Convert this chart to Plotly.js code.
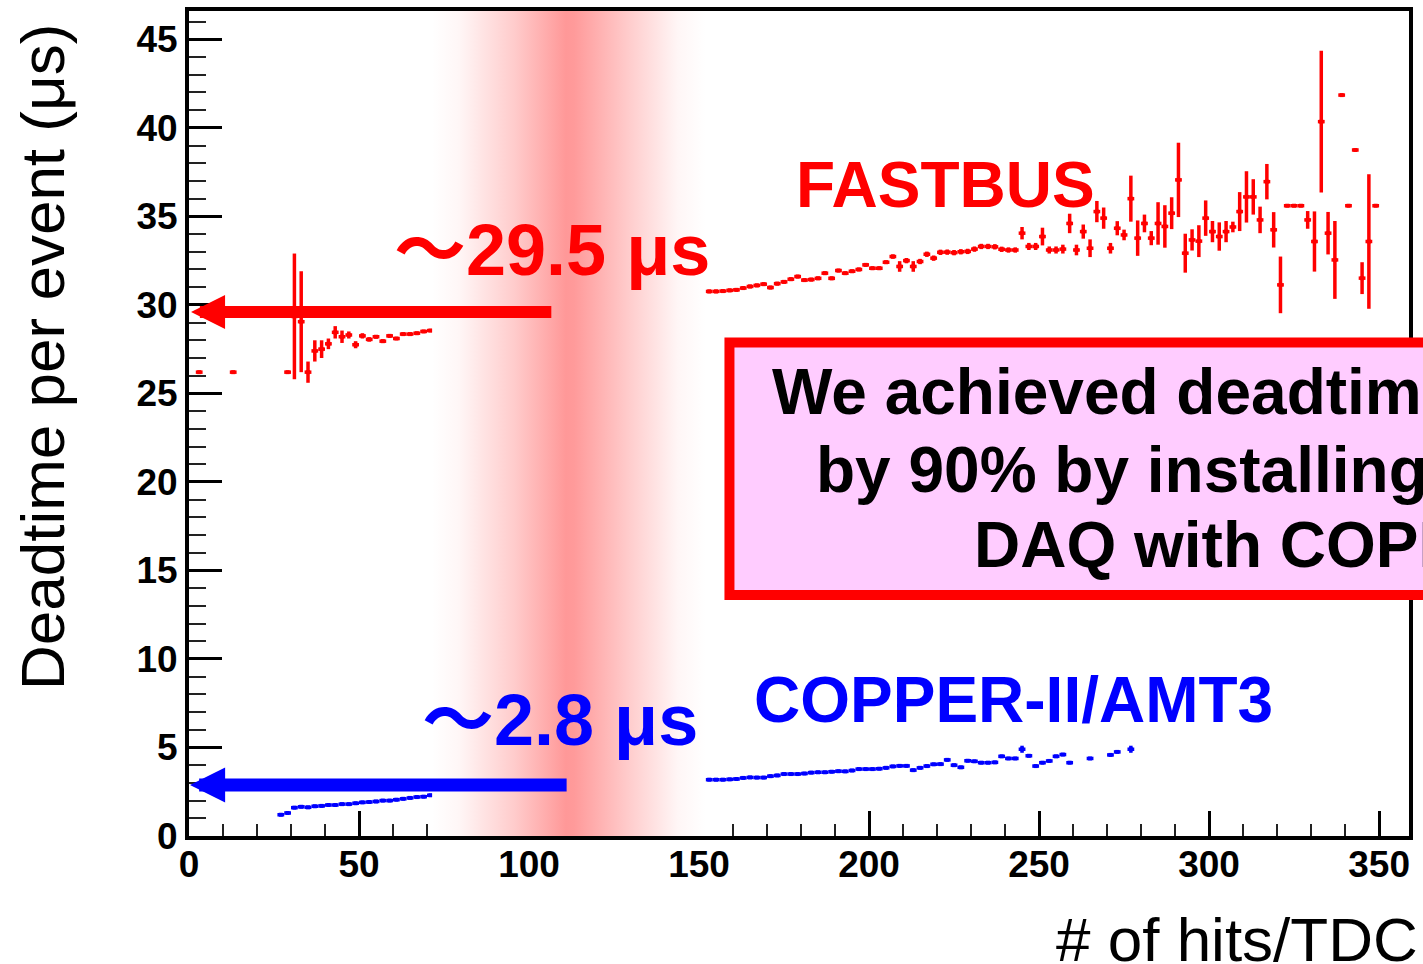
<!DOCTYPE html>
<html>
<head>
<meta charset="utf-8">
<script src="https://cdn.plot.ly/plotly-3.0.1.min.js"></script>
<style>html,body{margin:0;padding:0;background:#fff;overflow:hidden}</style>
</head>
<body>
<div id="chart" style="width:1423px;height:964px"></div>
<script>
// ---------------- data ----------------
// FASTBUS (red), bins of width 2 centered at odd x
const redLeftX = [3, 13, 29, 31, 33, 35, 37, 39, 41, 43, 45, 47, 49, 51, 53, 55, 57, 59, 61, 63, 65, 67, 69, 71];
const redLeftY = [26.2, 26.2, 26.2, 29.35, 29.05, 26.2, 27.4, 27.5, 27.8, 28.45, 28.2, 28.3, 27.75, 28.25, 28.05, 28.2, 27.95, 28.25, 28.1, 28.35, 28.35, 28.4, 28.5, 28.55];
const redLeftErr = [0, 0, 0, 3.55, 2.85, 0.6, 0.6, 0.5, 0.3, 0.35, 0.35, 0.2, 0.2, 0.15, 0.12, 0.1, 0.1, 0.1, 0.08, 0.08, 0.08, 0.06, 0.06, 0.06];

const redRightX = [153,155,157,159,161,163,165,167,169,171,173,175,177,179,181,183,185,187,189,191,193,195,197,199,201,203,205,207,209,211,213,215,217,219,221,223,225,227,229,231,233,235,237,239,241,243,245,247,249,251,253,255,257,259,261,263,265,267,269,271,273,275,277,279,281,283,285,287,289,291,293,295,297,299,301,303,305,307,309,311,313,315,317,319,321,323,325,327,329,331,333,335,337,339,341,343,345,347,349];
const redRightY = [30.76,30.76,30.78,30.82,30.85,30.95,31.04,31.1,31.17,30.98,31.2,31.3,31.45,31.6,31.4,31.43,31.5,31.79,31.5,31.94,31.79,31.9,32.0,32.26,32.07,32.07,32.41,32.73,32.17,32.5,32.17,32.45,32.86,32.64,32.97,32.98,32.95,33.0,33.02,33.15,33.3,33.3,33.28,33.14,33.1,33.1,34.05,33.3,33.3,33.86,33.1,33.1,33.15,34.6,33.1,34.14,33.2,35.27,34.9,33.2,34.33,33.95,36.0,33.77,34.6,33.77,34.6,34.43,35.18,37.06,32.92,33.67,33.6,34.9,34.14,33.86,34.14,34.4,35.27,36.1,36.1,34.8,36.96,34.24,31.13,35.6,35.6,35.6,34.8,33.58,40.35,34.05,32.54,41.85,35.6,38.75,31.51,33.58,35.6];
const redRightErr = [0.1,0.1,0.1,0.1,0.1,0.1,0.1,0.1,0.1,0.1,0.1,0.1,0.1,0.1,0.1,0.1,0.1,0.1,0.1,0.1,0.1,0.1,0.1,0.1,0.1,0.1,0.1,0.12,0.3,0.15,0.3,0.15,0.15,0.15,0.15,0.15,0.15,0.15,0.15,0.15,0.15,0.15,0.15,0.15,0.15,0.15,0.35,0.2,0.2,0.5,0.2,0.2,0.25,0.55,0.3,0.4,0.5,0.6,0.6,0.3,0.4,0.3,1.3,1.0,0.5,0.4,1.2,1.2,0.9,2.1,1.1,0.6,0.9,1.0,0.6,0.8,0.6,0.3,1.1,1.45,1.0,0.75,1.0,1.0,1.6,0,0,0,0.5,1.7,4.0,1.2,2.2,0,0,0,0.9,3.8,0];

// COPPER-II/AMT3 (blue)
const blueLeftX = [27, 29, 31, 33, 35, 37, 39, 41, 43, 45, 47, 49, 51, 53, 55, 57, 59, 61, 63, 65, 67, 69, 71];
const blueLeftY = [1.2, 1.3, 1.6, 1.65, 1.62, 1.68, 1.7, 1.75, 1.75, 1.8, 1.8, 1.85, 1.9, 1.92, 1.95, 2.0, 2.0, 2.05, 2.1, 2.15, 2.2, 2.22, 2.3];

const blueRightX = [153,155,157,159,161,163,165,167,169,171,173,175,177,179,181,183,185,187,189,191,193,195,197,199,201,203,205,207,209,211,213,215,217,219,221,223,225,227,229,231,233,235,237,239,241,243,245,247,249,251,253,255,257,259,265,271,273,277];
const blueRightY = [3.18,3.18,3.18,3.2,3.22,3.28,3.31,3.3,3.3,3.38,3.42,3.5,3.5,3.5,3.53,3.58,3.6,3.6,3.63,3.66,3.65,3.7,3.78,3.78,3.78,3.8,3.85,3.93,3.96,3.96,3.72,3.85,3.95,4.05,4.06,4.3,4.0,3.88,4.25,4.22,4.14,4.14,4.16,4.5,4.38,4.38,4.9,4.53,3.95,4.14,4.24,4.5,4.6,4.14,4.38,4.58,4.75,4.9];

const xTickVals = [0, 50, 100, 150, 200, 250, 300, 350];
const yTickVals = [0, 5, 10, 15, 20, 25, 30, 35, 40, 45];

const labelFastbus = "FASTBUS";
const labelCopper = "COPPER-II/AMT3";
const labelRedValue = "〜29.5 μs";
const labelBlueValue = "〜2.8 μs";
const boxLines = ["We achieved deadtime reduction", "by 90% by installing the new", "DAQ with COPPER"];
const xTitle = "# of hits/TDC";
const yTitle = "Deadtime per event (μs)";

const bandRange = [71.5, 151.8];

// ---------------- styling ----------------
const RED = '#ff0000', BLUE = '#0000ff';
const FONT = 'Liberation Sans, Arial, Noto Sans CJK JP, sans-serif';

function profileTrace(x, y, err, color, thick) {
  return {
    type: 'scatter', mode: 'markers', x: x, y: y,
    marker: {color: color, size: 4, symbol: 'square'},
    error_y: {type: 'data', array: err, visible: true, color: color, thickness: thick, width: 0},
    error_x: {type: 'constant', value: 1, visible: true, color: color, thickness: thick, width: 0},
    hoverinfo: 'x+y', showlegend: false
  };
}

const blueLeftErr = blueLeftY.map(() => 0.04);
const blueRightErr = blueRightX.map((v) => (v === 245 || v === 277) ? 0.2 : 0.05);

const traces = [
  profileTrace(redLeftX, redLeftY, redLeftErr, RED, 3.5),
  profileTrace(redRightX, redRightY, redRightErr, RED, 3.5),
  profileTrace(blueLeftX, blueLeftY, blueLeftErr, BLUE, 3.5),
  profileTrace(blueRightX, blueRightY, blueRightErr, BLUE, 3.5),
  {
    type: 'scatter', mode: 'lines',
    x: [bandRange[0], bandRange[1], bandRange[1], bandRange[0], bandRange[0]],
    y: [0, 0, 46.6, 46.6, 0],
    fill: 'toself',
    fillcolor: 'rgba(255,153,153,0.6)',
    fillgradient: {
      type: 'horizontal',
      colorscale: [[0, '#ffffff'], [0.1, '#fff6f6'], [0.3, '#ffcccc'], [0.49, '#ff9898'], [0.52, '#ff9a9a'], [0.72, '#ffcccc'], [0.9, '#fff6f6'], [1, '#ffffff']]
    },
    line: {width: 0, color: 'rgba(0,0,0,0)'},
    hoverinfo: 'skip', showlegend: false
  }
];

const tickFont = {family: FONT, size: 37, color: '#000', weight: 700};

const layout = {
  width: 1423, height: 964,
  margin: {l: 189, r: 14, t: 11, b: 128, pad: 0},
  paper_bgcolor: '#fff', plot_bgcolor: '#fff',
  showlegend: false,
  xaxis: {
    range: [0, 358.8], showgrid: false, zeroline: false,
    showline: true, linewidth: 4, linecolor: '#000', mirror: true,
    ticks: 'inside', tickmode: 'array', tickvals: xTickVals, ticktext: xTickVals.map(String),
    ticklen: 25, tickwidth: 3, tickcolor: '#000',
    minor: {ticks: 'inside', dtick: 10, tick0: 0, ticklen: 12, tickwidth: 2, tickcolor: '#222', showgrid: false},
    tickfont: tickFont, ticklabelstandoff: -7, layer: 'below traces', fixedrange: true
  },
  yaxis: {
    range: [0, 46.6], showgrid: false, zeroline: false,
    showline: true, linewidth: 4, linecolor: '#000', mirror: true,
    ticks: 'inside', tickmode: 'array', tickvals: yTickVals, ticktext: yTickVals.map(String),
    ticklen: 33, tickwidth: 3, tickcolor: '#000',
    minor: {ticks: 'inside', dtick: 1, tick0: 0, ticklen: 17, tickwidth: 2, tickcolor: '#222', showgrid: false},
    tickfont: tickFont, layer: 'below traces', fixedrange: true
  },
  shapes: [
    {type: 'rect', xref: 'paper', yref: 'paper', x0: 0.443, x1: 1.2, y0: 0.2921, y1: 0.5982,
     line: {color: RED, width: 10}, fillcolor: '#ffccff', layer: 'above'}
  ],
  annotations: [
    // arrows
    {x: 0.6, y: 29.6, xref: 'x', yref: 'y', ax: 107, ay: 29.6, axref: 'x', ayref: 'y',
     text: '', showarrow: true, arrowhead: 2, arrowsize: 0.567, arrowwidth: 12, arrowcolor: RED, standoff: 0},
    {x: 0.3, y: 2.88, xref: 'x', yref: 'y', ax: 111.5, ay: 2.88, axref: 'x', ayref: 'y',
     text: '', showarrow: true, arrowhead: 2, arrowsize: 0.54, arrowwidth: 13, arrowcolor: BLUE, standoff: 0},
    // value labels
    {x: 59.8, y: 33.1, xref: 'x', yref: 'y', xanchor: 'left', yanchor: 'middle', showarrow: false,
     text: labelRedValue, font: {family: FONT, size: 72, color: RED, weight: 700}},
    {x: 68.0, y: 6.55, xref: 'x', yref: 'y', xanchor: 'left', yanchor: 'middle', showarrow: false,
     text: labelBlueValue, font: {family: FONT, size: 72, color: BLUE, weight: 700}},
    {x: 222.4, y: 36.8, xref: 'x', yref: 'y', xanchor: 'center', yanchor: 'middle', showarrow: false,
     text: labelFastbus, font: {family: FONT, size: 64, color: RED, weight: 700}},
    {x: 242.6, y: 7.68, xref: 'x', yref: 'y', xanchor: 'center', yanchor: 'middle', showarrow: false,
     text: labelCopper, font: {family: FONT, size: 64, color: BLUE, weight: 700}},
    // box text
    {x: 170.9, y: 25.08, xref: 'x', yref: 'y', xanchor: 'left', yanchor: 'middle', showarrow: false,
     text: boxLines[0], font: {family: FONT, size: 64, color: '#000', weight: 700}},
    {x: 183.8, y: 20.68, xref: 'x', yref: 'y', xanchor: 'left', yanchor: 'middle', showarrow: false,
     text: boxLines[1], font: {family: FONT, size: 64, color: '#000', weight: 700}},
    {x: 230.3, y: 16.44, xref: 'x', yref: 'y', xanchor: 'left', yanchor: 'middle', showarrow: false,
     text: boxLines[2], font: {family: FONT, size: 64, color: '#000', weight: 700}},
    // axis titles
    {x: -0.1205, y: 0.5806, xref: 'paper', yref: 'paper', xanchor: 'center', yanchor: 'middle',
     textangle: -90, showarrow: false, text: yTitle, font: {family: FONT, size: 62, color: '#000'}},
    {x: 1.009, y: -0.126, xref: 'paper', yref: 'paper', xanchor: 'right', yanchor: 'middle',
     showarrow: false, text: xTitle, font: {family: FONT, size: 62, color: '#000'}}
  ]
};

Plotly.newPlot('chart', traces, layout, {displayModeBar: false, staticPlot: true});
</script>
</body>
</html>
